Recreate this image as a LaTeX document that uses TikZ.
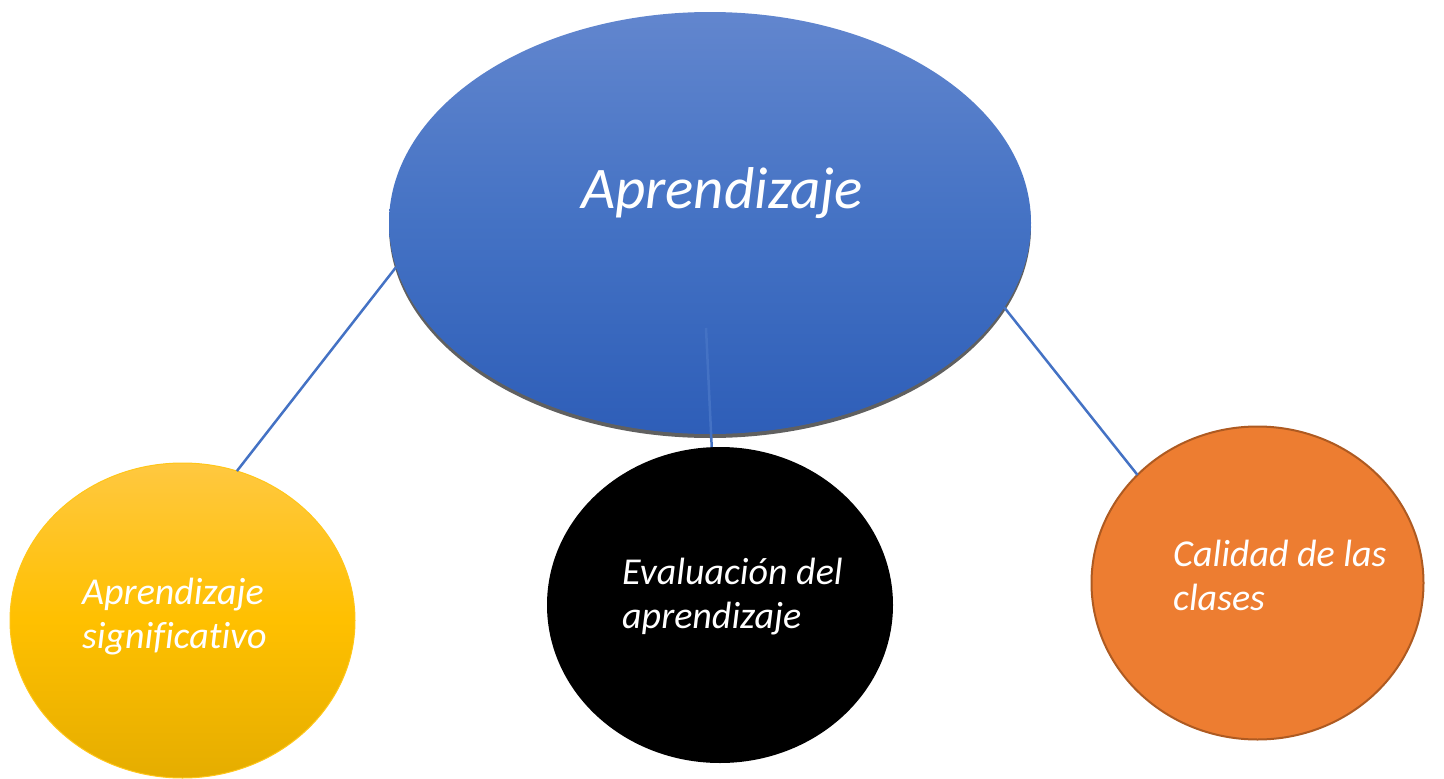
\documentclass[tikz,border=0pt]{standalone}
\usepackage{fontspec}
\setmainfont{Carlito}[Ligatures=NoCommon]
\usetikzlibrary{shapes.geometric}
\definecolor{bluetop}{HTML}{6286CE}
\definecolor{bluemid}{HTML}{4472C4}
\definecolor{bluebot}{HTML}{2E5EB8}
\definecolor{yeltop}{HTML}{FFC840}
\definecolor{yelmid}{HTML}{FFC000}
\definecolor{yelbot}{HTML}{E5AD00}
\definecolor{orangefill}{HTML}{ED7D31}
\definecolor{orangeline}{HTML}{AE5A21}
\definecolor{linkblue}{HTML}{4472C4}
\definecolor{shadowgrey}{HTML}{606060}
\tikzset{
  blob/.style={ellipse, inner sep=0pt, outer sep=0pt},
  link/.style={draw=linkblue, line width=2.5pt},
  label/.style={text=white, font=\itshape\fontsize{38}{44}\selectfont, align=left, anchor=base west, inner sep=0pt},
}
\begin{document}
\begin{tikzpicture}[x=1pt, y=-1pt]
\useasboundingbox (0,0) rectangle (1444,779);
% shadow of main ellipse
\fill[shadowgrey] (710,227) ellipse [x radius=321, y radius=211];
\node[blob, minimum width=642pt, minimum height=422pt, top color=bluetop, bottom color=bluebot, middle color=bluemid] (main) at (710,223) {};
\node[blob, minimum width=345pt, minimum height=315pt, top color=yeltop, bottom color=yelbot, middle color=yelmid, draw=yelmid!90!white, line width=1pt] (yel) at (182.5,620.5) {};
\node[blob, minimum width=346pt, minimum height=316pt, fill=black] (blk) at (720,605) {};
\node[blob, minimum width=332pt, minimum height=313pt, fill=orangefill, draw=orangeline, line width=2pt] (org) at (1257.5,583) {};
\coordinate (mid) at (706,328);
\draw[link] (main.188.5) -- (yel.70);
\draw[link] (mid) -- (blk.93.5);
\draw[link] (main.344) -- (org.138);
\node[text=white, font=\itshape\fontsize{59}{66}\selectfont, anchor=base, inner sep=0pt] (t1) at (722,208) {Aprendizaje};
\node[label] (t2) at (82,648) {Aprendizaje\\significativo};
\node[label] (t3) at (622,628) {Evaluación del\\aprendizaje};
\node[label] (t4) at (1173,610) {Calidad de las\\clases};
\end{tikzpicture}
\end{document}
